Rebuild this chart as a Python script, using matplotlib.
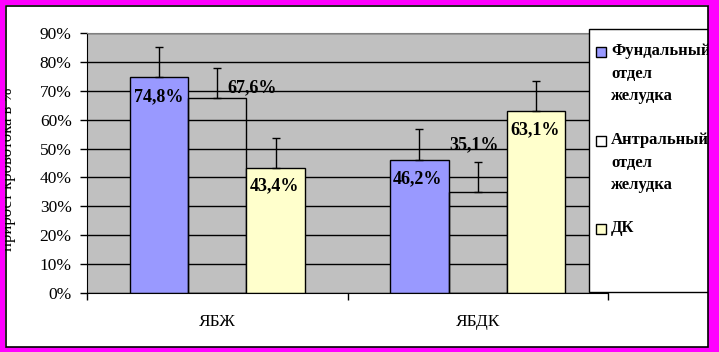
import numpy as np
import matplotlib
matplotlib.use("Agg")
from matplotlib import pyplot as plt
from matplotlib.patches import Rectangle

# data
categories = ["ЯБЖ", "ЯБДК"]
series_names = ["Фундальный\nотдел\nжелудка", "Антральный\nотдел\nжелудка", "ДК"]
fundal = [74.8, 46.2]
antral = [67.6, 35.1]
dk = [43.4, 63.1]
fundal_err = [10.3, 10.5]
antral_err = [10.4, 10.4]
dk_err = [10.4, 10.4]
y_ticks = [0, 10, 20, 30, 40, 50, 60, 70, 80, 90]
y_label = "прирост кровотока в %"

W, H = 719, 352
SERIF = "Liberation Serif"


def px(x, y):
    # pixel position (from top-left) -> figure fraction
    return x / W, 1 - y / H


def pct(v):
    return "{:.1f}%".format(v).replace(".", ",")


fig = plt.figure(figsize=(W / 100, H / 100), dpi=100)
fig.patch.set_facecolor("white")

left, top = px(87, 33)
right, bottom = px(608, 293)
ax = fig.add_axes([left, bottom, right - left, top - bottom])
ax.set_facecolor("#C0C0C0")

x = np.arange(len(categories))
width = 0.224
series = [
    (fundal, fundal_err, "#9999FF", -width),
    (antral, antral_err, "none", 0.0),
    (dk, dk_err, "#FFFFCC", width),
]
# label offsets in pixels (dx, dy up) relative to bar top centre
label_offsets = [
    [(0, -20), (-2, -19)],
    [(35, 10), (-4, 47)],
    [(-1, -18), (-1, -19)],
]

for (vals, errs, color, shift), offs in zip(series, label_offsets):
    xs = x + shift
    ax.bar(xs, vals, width=width, color=color, edgecolor="black", linewidth=1, zorder=2)
    ax.errorbar(xs, vals, yerr=[np.zeros(len(errs)), errs], fmt="none",
                ecolor="black", elinewidth=1, capsize=3, capthick=1, zorder=3)
    for xi, v, (dx, dy) in zip(xs, vals, offs):
        ax.annotate(pct(v), (xi, v), xytext=(dx * 0.72, dy * 0.72),
                    textcoords="offset points", ha="center", va="center",
                    fontsize=13, fontweight="bold", family=SERIF, zorder=4)

ax.set_xlim(-0.5, len(categories) - 0.5)
ax.set_ylim(0, 90)
ax.set_yticks(y_ticks)
ax.set_yticklabels(["{}%".format(t) for t in y_ticks], family=SERIF, fontsize=12.5)
ax.tick_params(axis="y", direction="out", length=5, width=1, pad=6, colors="black")

ax.set_xticks(np.arange(len(categories) + 1) - 0.5)
ax.set_xticklabels([])
ax.tick_params(axis="x", which="major", direction="out", length=5, width=1)
ax.set_xticks(x, minor=True)
ax.set_xticklabels(categories, minor=True, family=SERIF, fontsize=12.5)
ax.tick_params(axis="x", which="minor", length=0, pad=15)

ax.set_axisbelow(True)
ax.yaxis.grid(True, color="black", linewidth=1)
ax.spines["left"].set_color("black")
ax.spines["bottom"].set_color("black")
ax.spines["top"].set_color("#808080")
ax.spines["right"].set_visible(False)

# legend box
lx0, ly0 = px(589, 292)
lx1, ly1 = px(712, 29)
fig.add_artist(Rectangle((lx0, ly0), lx1 - lx0, ly1 - ly0, transform=fig.transFigure,
                         facecolor="white", edgecolor="black", linewidth=1, zorder=5))
legend_colors = ["#9999FF", "white", "#FFFFCC"]
entry_y = [52, 141, 229]
for name, color, ey in zip(series_names, legend_colors, entry_y):
    sx, sy = px(596, ey + 5)
    fig.add_artist(Rectangle((sx, sy), 10 / W, 10 / H, transform=fig.transFigure,
                             facecolor=color, edgecolor="black", linewidth=1, zorder=6))
    tx, ty = px(611, ey - 9)
    fig.text(tx, ty, name, ha="left", va="top", family=SERIF, fontsize=12,
             fontweight="bold", linespacing=1.55, zorder=6)

# axis title at the left edge, partly hidden by the border as in the original
yx, yy = px(8.5, 169)
fig.text(yx, yy, y_label, rotation=90, ha="center", va="center",
         family=SERIF, fontsize=12, zorder=4)

# magenta outer border with black inner line
mag = "#FF00FF"
for (x0, y0, w, h) in [(0, 0, 5, 352), (708, 0, 11, 352), (0, 0, 719, 5), (0, 347, 719, 5)]:
    bx, by = px(x0, y0 + h)
    fig.add_artist(Rectangle((bx, by), w / W, h / H, transform=fig.transFigure,
                             facecolor=mag, edgecolor="none", zorder=20))
fx, fy = px(5.5, 346.5)
fig.add_artist(Rectangle((fx, fy), 702 / W, 341 / H, transform=fig.transFigure,
                         facecolor="none", edgecolor="black", linewidth=1.2, zorder=21))

fig.savefig("out.png", dpi=100, facecolor=fig.get_facecolor())
